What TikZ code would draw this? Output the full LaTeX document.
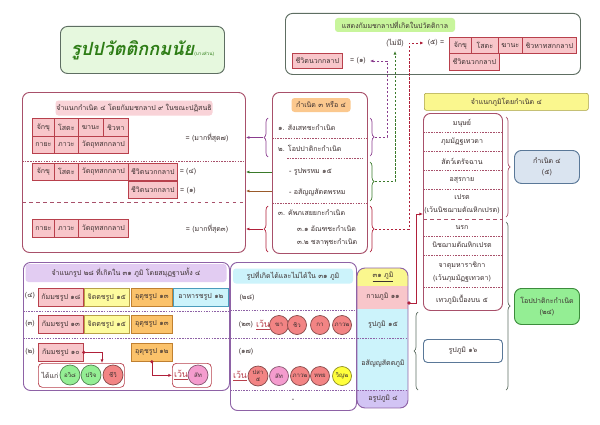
\documentclass[tikz,border=0pt]{standalone}
\usepackage{fontspec}
\newfontfamily\thaifont[Script=Thai]{Loma}
\usetikzlibrary{arrows.meta, decorations.pathreplacing, positioning, calc}

\definecolor{ktext}{HTML}{3C3030}
\definecolor{kred}{HTML}{B8404C}
\definecolor{kpink}{HTML}{F8C6CA}
\definecolor{khpink}{HTML}{F9D3D8}
\definecolor{kframe}{HTML}{A8506A}
\definecolor{kgray}{HTML}{5E6E62}
\definecolor{ktitle}{HTML}{E6F8DE}
\definecolor{kdgreen}{HTML}{2E7D16}
\definecolor{khgreen}{HTML}{C8F59C}
\definecolor{korange}{HTML}{FBC88E}
\definecolor{kyellow}{HTML}{FAF78E}
\definecolor{kolive}{HTML}{A8A040}
\definecolor{kblue}{HTML}{DAE4F0}
\definecolor{kbline}{HTML}{5A7898}
\definecolor{kgreen}{HTML}{94EE94}
\definecolor{kgline}{HTML}{3C8C3C}
\definecolor{kpurple}{HTML}{8E62A6}
\definecolor{klav}{HTML}{E2CCF2}
\definecolor{kcyan}{HTML}{CCF3FB}
\definecolor{kcline}{HTML}{4A9CBC}
\definecolor{kycell}{HTML}{FDFB9E}
\definecolor{kyline}{HTML}{B8A048}
\definecolor{kocell}{HTML}{FBC26A}
\definecolor{koline}{HTML}{C08030}
\definecolor{ksalmon}{HTML}{F28484}
\definecolor{kmagenta}{HTML}{F49CCE}
\definecolor{kvyellow}{HTML}{FFFF3C}
\definecolor{kpill}{HTML}{D2C4F4}
\definecolor{kpdash}{HTML}{8A3C8E}
\definecolor{kgdash}{HTML}{3A7A2A}
\definecolor{krdash}{HTML}{B0203A}
\definecolor{kbrown}{HTML}{9A5A2A}

\newlength\px
\setlength\px{0.03cm}

\begin{document}
\begin{tikzpicture}[x=0.03cm, y=-0.03cm, text=ktext,
    font=\thaifont\fontsize{6}{7}\selectfont,
    kbox/.style={draw=#1, line width=0.8pt, rounded corners=7\px, anchor=north west, inner sep=0pt},
    hdr/.style={fill=#1, rounded corners=3\px, inner sep=0pt},
    sz/.style 2 args={minimum width=#1\px, minimum height=#2\px},
    cell/.style={draw=kred, fill=kpink, anchor=north west, inner sep=0pt, line width=0.6pt},
    ycell/.style={cell, draw=kyline, fill=kycell},
    ocell/.style={cell, draw=koline, fill=kocell},
    ccell/.style={cell, draw=kcline, fill=kcyan},
    item/.style={anchor=west, inner sep=0pt},
    two/.style={align=center, font=\thaifont\fontsize{6}{11}\selectfont},
    ksep/.style={draw=#1, dash pattern=on 1.3pt off 1pt, line width=0.5pt},
    ball/.style={circle, fill=#1, draw=#1!55!black, inner sep=0pt, minimum size=19\px, line width=0.6pt,
      font=\thaifont\fontsize{5.2}{5.6}\selectfont},
    brc/.style={draw=#1, decorate, decoration={brace, amplitude=4\px}, line width=0.6pt},
    conn/.style={-{Latex[length=3pt, width=2.6pt]}, line width=0.6pt},
    dconn/.style={conn, dash pattern=on 2pt off 1.4pt, draw=#1}
  ]
  \useasboundingbox (0,0) rectangle (600,424);

  % title
  \node[kbox=kgray, fill=ktitle, sz={164}{47}, text=kdgreen] (title) at (60,26)
    {\fontsize{15.5}{16}\selectfont\bfseries\itshape รูปปวัตติกกมนัย\fontsize{4}{5}\selectfont\mdseries\upshape(บางส่วน)};

  % top right box
  \node[kbox=kgray, fill=white, sz={295}{61}] (tbox) at (285,13) {};
  \node[hdr=khgreen, sz={120}{14}] (thdr) at (395,25) {แสดงกัมมชกลาปที่เกิดในปวัตติกาล};
  \node (nomi) at (395,43) {(ไม่มี)};
  \node (five) at (436,43) {(๕) =};
  \node[cell, sz={22}{16}] (t1) at (449,37) {จักขุ};
  \node[cell, sz={27}{16}] (t2) at (471,37) {โสตะ};
  \node[cell, sz={24}{16}] (t3) at (498,37) {ฆานะ};
  \node[cell, sz={54}{16}] (t4) at (522,37) {ชิวหาทสกกลาป};
  \node[cell, sz={50}{17}] (t5) at (449,53) {ชีวิตนวกกลาป};
  \node[cell, sz={50}{15}] (t6) at (292,53) {ชีวิตนวกกลาป};
  \node (one) at (358,61) {= (๑)};

  % left box
  \node[kbox=kframe, fill=white, sz={223}{160}] (lbox) at (22,92) {};
  \node[hdr=khpink, sz={157}{15}] (lhdr) at (134,108) {จำแนกกำเนิด ๔ โดยกัมมชกลาป ๙ ในขณะปฏิสนธิ};
  \node[cell, sz={22}{18}] (a1) at (32,118) {จักขุ};
  \node[cell, sz={24}{18}] (a2) at (54,118) {โสตะ};
  \node[cell, sz={25}{18}] (a3) at (78,118) {ฆานะ};
  \node[cell, sz={25}{18}] (a4) at (103,118) {ชิวหา};
  \node[cell, sz={22}{17}] (a5) at (32,136) {กายะ};
  \node[cell, sz={24}{17}] (a6) at (54,136) {ภาวะ};
  \node[cell, sz={50}{17}] (a7) at (78,136) {วัตถุทสกกลาป};
  \node (most7) at (207,138) {= (มากที่สุด๗)};
  \draw[ksep=kframe] (22,161) -- (245,161);
  \node[cell, sz={22}{17}] (c1) at (32,163) {จักขุ};
  \node[cell, sz={24}{17}] (c2) at (54,163) {โสตะ};
  \node[cell, sz={50}{17}] (c3) at (78,163) {วัตถุทสกกลาป};
  \node[cell, sz={49}{17}] (c4) at (128,163) {ชีวิตนวกกลาป};
  \node (eq4) at (188,172) {= (๔)};
  \node[cell, sz={49}{17}] (c5) at (128,181) {ชีวิตนวกกลาป};
  \node (eq1) at (188,191) {= (๑)};
  \draw[kframe, dashed, line width=0.6pt] (22,202) -- (245,202);
  \node[cell, sz={22}{18}] (d1) at (32,219) {กายะ};
  \node[cell, sz={24}{18}] (d2) at (54,219) {ภาวะ};
  \node[cell, sz={50}{18}] (d3) at (78,219) {วัตถุทสกกลาป};
  \node (most3) at (207,229) {= (มากที่สุด๓)};

  % centre box
  \node[kbox=kframe, fill=white, sz={95}{161}] (cbox) at (272,92) {};
  \node[hdr=korange, sz={59}{14}] (chdr) at (321,105) {กำเนิด ๓ หรือ ๔};
  \node[item] (g1) at (278,128) {๑. สังเสทชะกำเนิด};
  \draw[ksep=kframe] (272,138) -- (367,138);
  \node[item] (g2) at (278,148) {๒. โอปปาติกะกำเนิด};
  \draw[ksep=kframe] (287,158) -- (363,158);
  \node[item] (g21) at (289,172) {- รูปพรหม ๑๕};
  \node[item] (g22) at (289,192) {- อสัญญสัตตพรหม};
  \draw[ksep=kframe] (272,203) -- (367,203);
  \node[item] (g3) at (278,213) {๓. คัพภเสยยกะกำเนิด};
  \node[item] (g31) at (297,229) {๓.๑ อัณฑชะกำเนิด};
  \node[item] (g32) at (297,243) {๓.๒ ชลาพุชะกำเนิด};

  \draw[brc=kpdash] (370,118) -- (370,156);
  \draw[brc=kgdash] (370,162) -- (370,201);
  \draw[brc=krdash] (370,206) -- (370,252);
  \draw[brc=kpdash] (268,157) -- (268,118);
  \draw[brc=krdash] (268,252) -- (268,206);
  \coordinate (cb1) at (375,137);
  \coordinate (cb2) at (375,181.5);
  \coordinate (cb3) at (375,229);
  \coordinate (lb1) at (263,137.5);
  \coordinate (lb3) at (263,229);
  \coordinate (pk1) at (387,61);
  \coordinate (pk3) at (409,43);

  \draw[dconn=kpdash] (cb1) -| (pk1) -- (one);
  \draw[dconn=kgdash] (cb2) -| (nomi);
  \draw[dconn=krdash] (cb3) -| (pk3) -- (five);
  \draw[conn, kpdash] (lb1) -- (lb1 -| lbox.east);
  \draw[conn, kgdash] (eq4 -| cbox.west) -- (eq4 -| lbox.east);
  \draw[conn, kbrown] (eq1 -| cbox.west) -- (eq1 -| lbox.east);
  \draw[conn, krdash] (lb3) -- (lb3 -| lbox.east);

  % bhumi list
  \node[kbox=kolive, fill=kyellow, rounded corners=2\px, line width=0.5pt, sz={164}{17}] (bhdr) at (424,93) {จำแนกภูมิโดยกำเนิด ๔};
  \node[kbox=kframe, fill=white, sz={79}{197}] (plist) at (423,113) {};
  \node (p1) at (462,123) {มนุษย์};
  \draw[ksep=kframe] (423,132) -- (502,132);
  \node (p2) at (462,142) {ภุมมัฏฐเทวดา};
  \draw[ksep=kframe] (423,151) -- (502,151);
  \node (p3) at (462,161) {สัตว์เดรัจฉาน};
  \draw[ksep=kframe] (423,170) -- (502,170);
  \node (p4) at (462,180) {อสุรกาย};
  \draw[ksep=kframe] (423,189) -- (502,189);
  \node[two] (p5) at (462,204) {เปรต\\(เว้นนิชฌามตัณหิกเปรต)};
  \draw[kframe, dashed, line width=0.7pt] (423,219) -- (502,219);
  \node (p6) at (462,228) {นรก};
  \draw[ksep=kframe] (423,236) -- (502,236);
  \node (p7) at (462,245) {นิชฌามตัณหิกเปรต};
  \draw[ksep=kframe] (423,255) -- (502,255);
  \node[two] (p8) at (462,272) {จาตุมหาราชิกา\\(เว้นภุมมัฏฐเทวดา)};
  \draw[ksep=kframe] (423,287) -- (502,287);
  \node (p9) at (462,300) {เทวภูมิเบื้องบน ๕};

  \draw[brc=kframe] (506,117) -- (506,217);
  \draw[brc=kgray] (506,222) -- (506,390);
  \draw[brc=kgray] (418,390) -- (418,312);
  \node[kbox=kbline, fill=kblue, sz={65}{33}, align=center] (y4) at (514,150) {กำเนิด ๔\\[2pt](๕)};
  \node[kbox=kgline, fill=kgreen, sz={65}{36}, align=center] (opa) at (514,288) {โอปปาติกะกำเนิด\\[2pt](๒๔)};
  \node[kbox=kbline, fill=white, rounded corners=4\px, sz={79}{23}] (rup16) at (423,339) {รูปภูมิ ๑๖};

  % pill of bhumi
  \begin{scope}
    \clip[rounded corners=8\px] (357,268) rectangle (408,408);
    \fill[kyellow] (357,268) rectangle (408,286);
    \fill[kpink] (357,286) rectangle (408,309);
    \fill[kcyan] (357,309) rectangle (408,390);
    \fill[kpill] (357,390) rectangle (408,408);
  \end{scope}
  \draw[kpurple, rounded corners=8\px, line width=0.8pt] (357,268) rectangle (408,408);
  \draw[ksep=kpurple] (357,338) -- (408,338);
  \draw[ksep=kpurple] (357,390) -- (408,390);
  \node (b31) at (383,277) {\underline{๓๑ ภูมิ}};
  \node (kam) at (383,297) {กามภูมิ ๑๑};
  \node (rup15) at (383,325) {รูปภูมิ ๑๕};
  \node (asan) at (383,364) {อสัญญสัตตภูมิ};
  \node (arup) at (383,399) {อรูปภูมิ ๔};
  \coordinate (kdot) at (409,303);
  \coordinate (pk4) at (416,214);
  \fill[krdash] (kdot) circle (1.6pt);
  \draw[conn, krdash] (kdot) -| (pk4) -- (pk4 -| plist.west);

  % rupa in 31 bhumi
  \node[kbox=kpurple, fill=white, sz={126}{148}] (rbox) at (230,262) {};
  \node[hdr=kcyan, sz={120}{15}] (rhdr) at (293,276) {รูปที่เกิดได้และไม่ได้ใน ๓๑ ภูมิ};
  \node (n28) at (247,298) {(๒๘)};
  \draw[ksep=kpurple] (230,310) -- (356,310);
  \node (n23) at (246,325) {(๒๓)};
  \node[text=kred] (w1) at (263,325) {\fontsize{7.5}{8}\selectfont\underline{เว้น}};
  \node[ball=ksalmon] (e1) at (279,325) {ฆา};
  \node[ball=ksalmon] (e2) at (297,325) {ชิว};
  \node[ball=ksalmon] (e3) at (320,325) {กา};
  \node[ball=ksalmon] (e4) at (342,325) {ภาว๒};
  \draw[ksep=kpurple] (230,338) -- (356,338);
  \node (n17) at (246,352) {(๑๗)};
  \node[text=kred] (w2) at (240,376) {\fontsize{7.5}{8}\selectfont\underline{เว้น}};
  \node[ball=ksalmon, minimum size=20\px] (f1) at (258,376) {\shortstack{\fontsize{5}{5}\selectfont ปสา\\[-0.5pt]\fontsize{5}{5}\selectfont ๕}};
  \node[ball=kmagenta] (f2) at (279,376) {สัท};
  \node[ball=ksalmon] (f3) at (300,376) {ภาว๒};
  \node[ball=ksalmon] (f4) at (320,376) {หทย};
  \node[ball=kvyellow] (f5) at (342,376) {วิญ๒};
  \draw[ksep=kpurple] (230,390) -- (356,390);
  \node (none) at (293,400) {-};

  % samutthana 4
  \node[kbox=kpurple, fill=white, sz={206}{128}] (sbox) at (23,262) {};
  \node[hdr=klav, sz={201}{18}] (shdr) at (126,273) {จำแนกรูป ๒๘ ที่เกิดใน ๓๑ ภูมิ โดยสมุฏฐานทั้ง ๔};
  \node (s4) at (30,296) {(๔)};
  \node[cell, sz={45}{18}] (k18) at (38,288) {กัมมชรูป ๑๘};
  \node[ycell, sz={45}{18}] (j15) at (84,288) {จิตตชรูป ๑๕};
  \node[ocell, sz={41}{18}] (u13) at (131,288) {อุตุชรูป ๑๓};
  \node[ccell, sz={55}{18}] (h12) at (173,288) {อาหารชรูป ๑๒};
  \draw[ksep=kpurple] (23,311) -- (229,311);
  \node (s3) at (30,324) {(๓)};
  \node[cell, sz={45}{18}] (k13) at (38,315) {กัมมชรูป ๑๓};
  \node[ycell, sz={45}{18}] (j15b) at (84,315) {จิตตชรูป ๑๕};
  \node[ocell, sz={41}{18}] (u13b) at (131,315) {อุตุชรูป ๑๓};
  \draw[ksep=kpurple] (23,338) -- (229,338);
  \node (s2) at (30,352) {(๒)};
  \node[cell, sz={45}{18}] (k10) at (38,343) {กัมมชรูป ๑๐};
  \node[ocell, sz={41}{18}] (u12) at (131,343) {อุตุชรูป ๑๒};
  \node[kbox=kred, fill=white, rounded corners=4\px, line width=0.6pt, sz={86}{24}] (got) at (38,363) {};
  \node (gottxt) at (50,375) {ได้แก่};
  \node[ball=kgreen, minimum size=20\px] (v1) at (70,375) {อวิ๘};
  \node[ball=kgreen, minimum size=20\px] (v2) at (91,375) {ปริจ};
  \node[ball=ksalmon, minimum size=20\px] (v3) at (113,375) {ชีวิ};
  \node[kbox=kred, fill=white, rounded corners=4\px, line width=0.6pt, sz={39}{24}] (skip) at (172,363) {};
  \node[text=kred] (w3) at (181,375) {\fontsize{7.5}{8}\selectfont\underline{เว้น}};
  \node[ball=kmagenta, minimum size=20\px] (v4) at (198,375) {สัท};
  \coordinate (gk) at (102,363);
  \fill[krdash] (k10.east) circle (1.5pt);
  \draw[conn, krdash] (k10.east) -| (gk);
  \fill[krdash] (u12.south) circle (1.5pt);
  \draw[conn, krdash] (u12.south) |- (skip.west);
\end{tikzpicture}
\end{document}
